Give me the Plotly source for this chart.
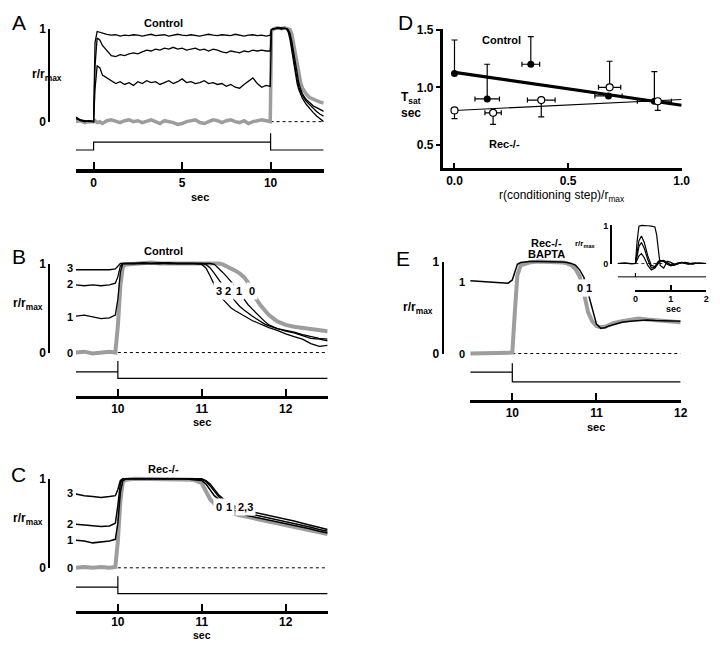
import plotly.graph_objects as go

# ======================= DATA =======================
# ---- Panel A: Control, 10 s conditioning steps ----
tA = [-1.0, -0.75, -0.5, -0.25, 0.0, 0.08, 0.2, 0.35,
      0.5, 0.75, 1.0, 1.25, 1.5, 1.75, 2.0, 2.25, 2.5, 2.75,
      3.0, 3.25, 3.5, 3.75, 4.0, 4.25, 4.5, 4.75, 5.0, 5.25,
      5.5, 5.75, 6.0, 6.25, 6.5, 6.75, 7.0, 7.25, 7.5, 7.75,
      8.0, 8.25, 8.5, 8.75, 9.0, 9.25, 9.5, 9.75,
      9.98, 10.05, 10.2, 10.4, 10.6, 10.8,
      10.9, 11.0, 11.1, 11.2, 11.3, 11.4, 11.5, 11.6, 11.7, 11.8,
      12.0, 12.2, 12.4, 12.6, 12.8, 13.0]
A_hi = [0.04, 0.01, 0.0, 0.01, 0.0, 0.85, 0.97, 0.96,
        0.95, 0.94, 0.93, 0.935, 0.92, 0.93, 0.925, 0.935, 0.93, 0.92,
        0.93, 0.94, 0.925, 0.93, 0.935, 0.92, 0.93, 0.94, 0.93, 0.925,
        0.935, 0.93, 0.92, 0.93, 0.94, 0.93, 0.925, 0.935, 0.93, 0.925,
        0.94, 0.93, 0.92, 0.93, 0.935, 0.925, 0.93, 0.92,
        0.93, 0.99, 1.0, 1.01, 0.995, 1.005,
        1.0, 0.96, 0.88, 0.76, 0.63, 0.51, 0.41, 0.34, 0.29, 0.25,
        0.19, 0.14, 0.1, 0.06, 0.03, 0.0]
A_mid = [0.03, 0.02, 0.0, 0.01, 0.0, 0.6, 0.9, 0.88,
         0.82, 0.76, 0.71, 0.70, 0.72, 0.71, 0.73, 0.74, 0.73, 0.75,
         0.77, 0.76, 0.78, 0.77, 0.79, 0.78, 0.80, 0.78, 0.79, 0.77,
         0.78, 0.79, 0.77, 0.78, 0.76, 0.78, 0.77, 0.75, 0.74, 0.76,
         0.75, 0.74, 0.76, 0.75, 0.77, 0.76, 0.77, 0.76,
         0.76, 0.99, 1.0, 1.0, 1.01, 1.0,
         1.0, 0.98, 0.92, 0.81, 0.68, 0.56, 0.45, 0.37, 0.32, 0.28,
         0.22, 0.18, 0.15, 0.11, 0.08, 0.06]
A_lo = [0.05, 0.02, 0.01, 0.0, 0.0, 0.35, 0.6, 0.58,
        0.5, 0.47, 0.44, 0.41, 0.43, 0.40, 0.42, 0.39, 0.43, 0.41,
        0.44, 0.42, 0.43, 0.40, 0.42, 0.44, 0.41, 0.43, 0.46, 0.42,
        0.43, 0.41, 0.42, 0.44, 0.41, 0.42, 0.40, 0.41, 0.38, 0.40,
        0.37, 0.36, 0.40, 0.44, 0.47, 0.41, 0.37, 0.39,
        0.38, 0.99, 1.0, 1.01, 1.0, 1.0,
        1.0, 0.99, 0.95, 0.86, 0.74, 0.61, 0.5, 0.41, 0.35, 0.3,
        0.24, 0.2, 0.17, 0.15, 0.13, 0.11]
A_gray = [0.0, 0.01, -0.01, 0.0, 0.0, 0.01, -0.01, 0.0,
          -0.02, 0.01, 0.02, 0.0, -0.01, 0.01, 0.02, 0.0, 0.01, -0.01,
          0.01, 0.02, 0.0, -0.02, 0.01, 0.0, -0.01, -0.03, -0.02, 0.0,
          0.01, 0.02, -0.01, -0.02, 0.0, 0.02, 0.01, -0.01, 0.01, 0.02,
          0.0, -0.01, 0.01, -0.02, 0.0, 0.01, 0.02, 0.01,
          0.0, 0.98, 1.0, 1.01, 1.0, 1.01,
          1.0, 1.0, 0.99, 0.94, 0.84, 0.72, 0.6, 0.5, 0.42, 0.36,
          0.3, 0.26, 0.24, 0.22, 0.21, 0.2]
stimA_t = [-1, 0, 0, 10, 10, 10, 13]
stimA_y = [-0.305, -0.305, -0.221, -0.221, -0.126, -0.305, -0.305]
zeroA_t = [10, 13]
A_ticks = [0, 5, 10]

# ---- Panels B (Control) and C (Rec-/-): saturating flash after steps ----
tBC = [9.5, 9.6, 9.7, 9.8, 9.9, 9.97, 10.0, 10.03, 10.06, 10.1,
       10.2, 10.3, 10.4, 10.5, 10.6, 10.7, 10.8, 10.9, 11.0, 11.05,
       11.1, 11.15, 11.2, 11.25, 11.3, 11.35, 11.4, 11.45, 11.5, 11.55,
       11.6, 11.65, 11.7, 11.75, 11.8, 11.9, 12.0, 12.1, 12.2, 12.3,
       12.4, 12.5]
B_0 = [0.0, 0.01, -0.01, 0.0, 0.01, 0.0, 0.3, 0.75, 0.97, 0.99,
       1.0, 1.0, 1.01, 1.0, 1.0, 1.01, 1.0, 1.0, 1.0, 1.0,
       1.0, 1.0, 1.0, 0.99, 0.97, 0.95, 0.92, 0.89, 0.85, 0.79,
       0.69, 0.6, 0.53, 0.47, 0.42, 0.35, 0.31, 0.29, 0.28, 0.27,
       0.25, 0.24]
B_1 = [0.41, 0.42, 0.40, 0.38, 0.39, 0.42, 0.6, 0.9, 1.0, 1.0,
       1.0, 1.01, 1.0, 1.0, 1.01, 1.0, 1.0, 1.0, 1.0, 1.0,
       1.0, 0.99, 0.95, 0.9, 0.85, 0.8, 0.74, 0.67, 0.6, 0.54,
       0.49, 0.44, 0.39, 0.35, 0.31, 0.27, 0.24, 0.22, 0.19, 0.16,
       0.15, 0.13]
B_2 = [0.76, 0.75, 0.76, 0.75, 0.76, 0.78, 0.85, 0.97, 1.0, 1.0,
       1.0, 1.0, 1.0, 1.01, 1.0, 1.0, 1.0, 1.0, 1.0, 0.99,
       0.95, 0.89, 0.82, 0.75, 0.69, 0.63, 0.57, 0.52, 0.48, 0.44,
       0.41, 0.38, 0.35, 0.32, 0.30, 0.27, 0.25, 0.23, 0.2, 0.18,
       0.16, 0.15]
B_3 = [0.93, 0.93, 0.935, 0.93, 0.93, 0.94, 0.97, 1.0, 1.0, 1.0,
       1.0, 1.0, 1.0, 1.0, 1.0, 1.0, 1.0, 1.0, 0.99, 0.95,
       0.86, 0.76, 0.68, 0.6, 0.55, 0.5, 0.47, 0.44, 0.41, 0.38,
       0.36, 0.34, 0.32, 0.3, 0.28, 0.25, 0.21, 0.18, 0.15, 0.1,
       0.07, 0.08]
C_0 = [0.0, 0.01, 0.0, 0.01, 0.0, 0.01, 0.3, 0.75, 0.97, 0.99,
       1.0, 1.0, 1.0, 1.0, 1.0, 1.0, 0.99, 0.99, 0.95, 0.86,
       0.77, 0.72, 0.69, 0.66, 0.64, 0.62, 0.6, 0.59, 0.58, 0.57,
       0.56, 0.55, 0.54, 0.535, 0.53, 0.51, 0.49, 0.47, 0.45, 0.43,
       0.405, 0.38]
C_1 = [0.31, 0.3, 0.28, 0.29, 0.3, 0.32, 0.5, 0.85, 0.98, 1.0,
       1.0, 1.0, 1.0, 1.0, 1.0, 1.0, 1.0, 0.99, 0.98, 0.94,
       0.88, 0.81, 0.77, 0.73, 0.7, 0.67, 0.64, 0.62, 0.6, 0.585,
       0.575, 0.565, 0.555, 0.55, 0.54, 0.52, 0.5, 0.48, 0.455, 0.435,
       0.41, 0.39]
C_2 = [0.49, 0.48, 0.47, 0.465, 0.47, 0.5, 0.7, 0.95, 1.0, 1.0,
       1.0, 1.0, 1.0, 1.0, 1.0, 1.0, 1.0, 1.0, 0.99, 0.97,
       0.92, 0.86, 0.8, 0.76, 0.72, 0.69, 0.67, 0.65, 0.63, 0.615,
       0.6, 0.59, 0.58, 0.57, 0.56, 0.54, 0.52, 0.5, 0.475, 0.455,
       0.43, 0.41]
C_3 = [0.83, 0.81, 0.8, 0.79, 0.8, 0.81, 0.88, 0.98, 1.0, 1.0,
       1.0, 1.0, 1.0, 1.0, 1.0, 1.0, 1.0, 1.0, 1.0, 0.98,
       0.94, 0.88, 0.82, 0.78, 0.745, 0.715, 0.69, 0.67, 0.655, 0.64,
       0.63, 0.62, 0.61, 0.6, 0.59, 0.57, 0.55, 0.525, 0.5, 0.475,
       0.455, 0.43]
stimBC_t = [9.5, 10, 10, 10, 12.5]
stimBC_y = [-0.216, -0.216, -0.095, -0.289, -0.289]
zeroBC_t = [10, 12.5]
BC_ticks = [10, 11, 12]
B_labels = ["3", "2", "1", "0"]
B_label_t = [11.21, 11.31, 11.44, 11.6]
B_label_y = 0.69
B_start = [0.945, 0.77, 0.40, 0.0]
C_labels = ["0", "1", "2,3"]
C_label_t = [11.21, 11.33, 11.52]
C_label_y = 0.68
C_start_labels = ["3", "2", "1", "0"]
C_start = [0.835, 0.495, 0.31, 0.0]

# ---- Panel D: Tsat vs conditioning response ----
D_ctrl_x = [0.0, 0.144, 0.336, 0.678, 0.88]
D_ctrl_y = [1.12, 0.90, 1.20, 0.926, 0.88]
D_ctrl_eup = [0.29, 0.30, 0.24, 0.0, 0.256]
D_ctrl_ex = [0.0, 0.054, 0.039, 0.06, 0.075]
D_rec_x = [0.0, 0.170, 0.382, 0.683, 0.895]
D_rec_y = [0.80, 0.78, 0.89, 1.00, 0.88]
D_rec_eup = [0.0, 0.0, 0.0, 0.226, 0.0]
D_rec_edn = [0.07, 0.10, 0.146, 0.0, 0.08]
D_rec_ex = [0.0, 0.036, 0.061, 0.049, 0.0]
fit_x = [0.0, 1.0]
fit_ctrl = [1.13, 0.845]
fit_rec = [0.80, 0.895]
D_xticks = [0.0, 0.5, 1.0]
D_yticks = [0.5, 1.0, 1.5]

# ---- Panel E: Rec-/- + BAPTA ----
tE = [9.5, 9.6, 9.7, 9.8, 9.9, 9.95, 10.0, 10.03, 10.06, 10.1,
      10.2, 10.3, 10.4, 10.5, 10.6, 10.65, 10.7, 10.75, 10.8, 10.85,
      10.9, 10.95, 11.0, 11.05, 11.1, 11.15, 11.2, 11.3, 11.4, 11.5,
      11.6, 11.7, 11.8, 11.9, 12.0]
E_1 = [0.79, 0.785, 0.78, 0.775, 0.77, 0.765, 0.8, 0.9, 0.97, 0.99,
       1.0, 1.0, 1.0, 1.0, 0.995, 0.99, 0.98, 0.96, 0.91, 0.83,
       0.66, 0.46, 0.32, 0.275, 0.28, 0.3, 0.315, 0.34, 0.35, 0.36,
       0.365, 0.36, 0.36, 0.355, 0.35]
E_0 = [0.0, 0.0, 0.01, 0.0, 0.0, 0.0, 0.01, 0.45, 0.85, 0.96,
       0.99, 1.0, 1.0, 1.0, 0.99, 0.98, 0.96, 0.92, 0.84, 0.66,
       0.45, 0.35, 0.3, 0.285, 0.29, 0.31, 0.33, 0.35, 0.37, 0.38,
       0.37, 0.36, 0.36, 0.35, 0.34]
stimE_t = [9.5, 10, 10, 10, 12]
stimE_y = [-0.202, -0.202, -0.106, -0.309, -0.309]
zeroE_t = [10, 12]
E_ticks = [10, 11, 12]
E_labels = ["0", "1"]
E_label_t = [10.81, 10.91]
E_label_y = 0.71

# ---- Inset of E: flash responses ----
tI = [-0.5, -0.3, -0.1, 0.0, 0.05, 0.1, 0.17, 0.25, 0.35, 0.45,
      0.55, 0.6, 0.65, 0.7, 0.8, 0.9, 1.0, 1.1, 1.2, 1.3,
      1.4, 1.5, 1.6, 1.7, 1.8, 1.9, 2.0]
I_sat = [0.0, 0.01, -0.01, 0.0, 0.6, 0.98, 1.0, 1.0, 0.99, 0.98,
         0.96, 0.75, 0.3, -0.05, -0.12, 0.06, 0.03, -0.02, 0.01, 0.03,
         0.0, -0.02, 0.01, 0.02, 0.0, 0.01, 0.0]
I_p70 = [0.0, 0.01, 0.0, 0.0, 0.3, 0.6, 0.72, 0.55, 0.2, -0.05,
         -0.08, 0.0, 0.06, 0.08, 0.05, -0.02, -0.06, -0.04, 0.0, 0.02,
         0.03, 0.01, -0.01, 0.0, 0.01, 0.0, 0.0]
I_p50 = [0.0, 0.0, 0.0, 0.0, 0.2, 0.45, 0.55, 0.4, 0.1, -0.12,
         -0.1, -0.02, 0.05, 0.07, 0.06, 0.0, -0.05, -0.03, 0.01, 0.02,
         0.02, 0.0, -0.01, 0.0, 0.01, 0.0, 0.0]
I_p25 = [0.0, 0.0, 0.0, 0.0, 0.1, 0.2, 0.26, 0.15, -0.05, -0.17,
         -0.12, -0.05, 0.03, 0.07, 0.08, 0.02, -0.03, -0.04, 0.0, 0.03,
         0.02, 0.0, -0.01, 0.0, 0.0, 0.0, 0.0]
stimI_t = [-0.5, 0, 0, 0, 2.0]
stimI_y = [-0.35, -0.35, -0.25, -0.35, -0.35]
zeroI_t = [0, 2]
I_ticks = [0, 1, 2]

# ======================= LAYOUT HELPERS =======================
W, H = 720, 648
OFF = 8  # the page places the figure 8 px in from the window's top-left corner
FONT = "Liberation Sans, Arial, Helvetica, sans-serif"
GRAY = "#9d9d9d"


def fx(p):
    return (p - OFF) / W


def fy(p):
    return 1 - (p - OFF) / H


def yrange(zero_px, one_px, bottom_px, top_px):
    u = zero_px - one_px
    return [-(bottom_px - zero_px) / u, 1 + (one_px - top_px) / u]


def tfont(size=12):
    return dict(family=FONT, size=size, color="black", weight="bold")


def hidden_axis(**kw):
    d = dict(visible=False, showgrid=False, zeroline=False, fixedrange=True)
    d.update(kw)
    return d


def time_axis(domain, rng, anchor, ticks, lw=2.5, tlen=7, size=12, standoff=0):
    return dict(domain=domain, range=rng, anchor=anchor, showline=True,
                linewidth=lw, linecolor="black", ticks="inside", ticklen=tlen,
                tickwidth=2, tickcolor="black", tickvals=ticks,
                ticklabelstandoff=standoff,
                tickfont=tfont(size), showgrid=False, zeroline=False)


def scale_axis(zero_px, one_px, x_px, tlen=6, lw=2, size=12):
    return dict(domain=[fy(zero_px), fy(one_px)], range=[0, 1], anchor="free",
                position=fx(x_px), side="left", showline=True, linewidth=lw,
                linecolor="black", ticks="inside", ticklen=tlen, tickwidth=lw,
                tickcolor="black", tickvals=[0, 1], tickfont=tfont(size),
                showgrid=False, zeroline=False)


def line(x, y, xa, ya, color="black", width=1.3, dash=None):
    return go.Scatter(x=x, y=y, xaxis=xa, yaxis=ya, mode="lines",
                      line=dict(color=color, width=width, dash=dash),
                      showlegend=False, hoverinfo="skip")


def dummy(xa, ya):
    return go.Scatter(x=[None], y=[None], xaxis=xa, yaxis=ya, mode="lines",
                      showlegend=False, hoverinfo="skip")


annotations = []


def txt(text, x, y, size=12, bold=True, xref="paper", yref="paper", bg=None):
    d = dict(text=text, x=x, y=y, xref=xref, yref=yref, showarrow=False,
             xanchor="center", yanchor="middle",
             font=dict(family=FONT, size=size, color="black",
                       weight="bold" if bold else "normal"))
    if bg:
        d.update(bgcolor=bg, borderpad=2)
    annotations.append(d)


def ptxt(text, px, py, **kw):
    txt(text, fx(px), fy(py), **kw)


fig = go.Figure()

# ---------------- Panel A ----------------
fig.add_trace(line(zeroA_t, [0, 0], "x", "y", width=1, dash="dot"))
fig.add_trace(line(stimA_t, stimA_y, "x", "y", width=1.2))
fig.add_trace(line(tA, A_gray, "x", "y", color=GRAY, width=3.5))
for ys in (A_lo, A_mid, A_hi):
    fig.add_trace(line(tA, ys, "x", "y"))
fig.add_trace(dummy("x", "y2"))

# ---------------- Panel B ----------------
fig.add_trace(line(zeroBC_t, [0, 0], "x2", "y3", width=1, dash="dot"))
fig.add_trace(line(stimBC_t, stimBC_y, "x2", "y3", width=1.2))
fig.add_trace(line(tBC, B_0, "x2", "y3", color=GRAY, width=4))
for ys in (B_1, B_2, B_3):
    fig.add_trace(line(tBC, ys, "x2", "y3"))
fig.add_trace(dummy("x2", "y4"))

# ---------------- Panel C ----------------
fig.add_trace(line(zeroBC_t, [0, 0], "x3", "y5", width=1, dash="dot"))
fig.add_trace(line(stimBC_t, stimBC_y, "x3", "y5", width=1.2))
fig.add_trace(line(tBC, C_0, "x3", "y5", color=GRAY, width=4))
for ys in (C_1, C_2, C_3):
    fig.add_trace(line(tBC, ys, "x3", "y5", width=1.5))
fig.add_trace(dummy("x3", "y6"))

# ---------------- Panel D ----------------
fig.add_trace(line(fit_x, fit_ctrl, "x4", "y7", width=3.2))
fig.add_trace(line(fit_x, fit_rec, "x4", "y7", width=1.1))
fig.add_trace(go.Scatter(
    x=D_ctrl_x, y=D_ctrl_y, xaxis="x4", yaxis="y7", mode="markers",
    marker=dict(symbol="circle", size=7, color="black"),
    error_y=dict(type="data", symmetric=False, array=D_ctrl_eup,
                 arrayminus=[0] * len(D_ctrl_eup), color="black",
                 thickness=1.2, width=3),
    error_x=dict(type="data", array=D_ctrl_ex, color="black",
                 thickness=1.2, width=2.5),
    showlegend=False, hoverinfo="skip"))
fig.add_trace(go.Scatter(
    x=D_rec_x, y=D_rec_y, xaxis="x4", yaxis="y7", mode="markers",
    marker=dict(symbol="circle", size=7, color="white",
                line=dict(color="black", width=1.2)),
    error_y=dict(type="data", symmetric=False, array=D_rec_eup,
                 arrayminus=D_rec_edn, color="black", thickness=1.2, width=3),
    error_x=dict(type="data", array=D_rec_ex, color="black",
                 thickness=1.2, width=2.5),
    showlegend=False, hoverinfo="skip"))

# ---------------- Panel E ----------------
fig.add_trace(line(zeroE_t, [0, 0], "x5", "y8", width=1, dash="dot"))
fig.add_trace(line(stimE_t, stimE_y, "x5", "y8", width=1.2))
fig.add_trace(line(tE, E_0, "x5", "y8", color=GRAY, width=4))
fig.add_trace(line(tE, E_1, "x5", "y8", width=1.5))
fig.add_trace(dummy("x5", "y9"))

# ---------------- Inset ----------------
fig.add_trace(line(zeroI_t, [0, 0], "x6", "y10", width=0.8, dash="dot"))
fig.add_trace(line(stimI_t, stimI_y, "x6", "y10", width=1))
for ys in (I_p25, I_p50, I_p70, I_sat):
    fig.add_trace(line(tI, ys, "x6", "y10", width=1.2))
fig.add_trace(dummy("x7", "y10"))
fig.add_trace(dummy("x6", "y11"))

layout_axes = dict(
    # A
    xaxis=time_axis([fx(74), fx(326)], [-1, 13], "y", A_ticks, lw=3.5),
    yaxis=hidden_axis(domain=[fy(165), fy(8)], range=yrange(117, 22, 165, 8)),
    yaxis2=scale_axis(117, 22, 47),
    # B
    xaxis2=time_axis([fx(74), fx(330)], [9.5, 12.5], "y3", BC_ticks, lw=2.8),
    yaxis3=hidden_axis(domain=[fy(397), fy(238)], range=yrange(353, 262, 397, 238)),
    yaxis4=scale_axis(353, 262, 47),
    # C
    xaxis3=time_axis([fx(74), fx(330)], [9.5, 12.5], "y5", BC_ticks, lw=2.8,
                     standoff=-2),
    yaxis5=hidden_axis(domain=[fy(617), fy(458)], range=yrange(573, 482, 617, 458)),
    yaxis6=scale_axis(573, 482, 47),
    # D
    xaxis4=dict(domain=[fx(447), fx(690)], range=[-0.052, 1.0], anchor="y7",
                showline=True, linewidth=2.5, linecolor="black", ticks="inside",
                ticklen=5, tickwidth=2, tickcolor="black", tickvals=D_xticks,
                ticktext=["0.0", "0.5", "1.0"], tickfont=tfont(12),
                showgrid=False, zeroline=False),
    yaxis7=dict(domain=[fy(164), fy(22)], range=[0.305, 1.508], anchor="x4",
                showline=True, linewidth=2.5, linecolor="black", ticks="outside",
                ticklen=4, tickwidth=2, tickcolor="black", tickvals=D_yticks,
                ticktext=["0.5", "1.0", "1.5"], tickfont=tfont(12),
                showgrid=False, zeroline=False),
    # E
    xaxis5=time_axis([fx(475), fx(689)], [9.5, 12.0], "y8", E_ticks, lw=2.5),
    yaxis8=hidden_axis(domain=[fy(401), fy(235)], range=yrange(354, 260, 401, 235)),
    yaxis9=scale_axis(354, 260, 447),
    # Inset
    xaxis6=hidden_axis(domain=[fx(625), fx(715)], range=[-0.5, 2.0], anchor="y10"),
    yaxis10=hidden_axis(domain=[fy(289), fy(216)], range=yrange(262, 223, 289, 216),
                        anchor="x6"),
    xaxis7=time_axis([fx(643), fx(715)], [0, 2], "y10", I_ticks, lw=1.5,
                     tlen=5, size=9),
    yaxis11=scale_axis(262, 223, 618, tlen=4, lw=1.5, size=9),
)

# ---------------- Text ----------------
for letter, (px, py) in zip("ABCDE", [(16, 16), (16, 255), (16, 478), (409, 16), (407, 257)]):
    ptxt(letter, px, py, size=21, bold=False)

ptxt("Control", 163, 16, size=11)
ptxt("Control", 163, 249, size=11)
ptxt("Rec-/-", 163, 472, size=11)
ptxt("Control", 507, 34, size=11)
ptxt("Rec-/-", 510, 140, size=11)
ptxt("Rec-/-", 553, 241, size=11)
ptxt("BAPTA", 553, 252, size=11)

RMAX = "r/r<sub>max</sub>"
ptxt(RMAX, 45, 69, size=12)
ptxt(RMAX, 25, 303, size=12)
ptxt(RMAX, 25, 523, size=12)
ptxt(RMAX, 422, 307, size=12)
ptxt(RMAX, 592, 242, size=8)

ptxt("sec", 200, 194, size=11)
ptxt("sec", 202, 424, size=11)
ptxt("sec", 202, 642, size=10.5)
ptxt("sec", 603, 429, size=11)
ptxt("sec", 682, 308, size=9)

ptxt("T<sub>sat</sub>", 415, 93, size=12)
ptxt("sec", 415, 108, size=12)
ptxt("r(conditioning step)/r<sub>max</sub>", 568, 193, size=12, bold=False)

# trace number labels
for lab, t in zip(B_labels, B_label_t):
    txt(lab, t, B_label_y, size=11, xref="x2", yref="y3", bg="white")
for lab, v in zip(B_labels, B_start):
    txt(lab, fx(68), v, size=11, yref="y3")
for lab, t in zip(C_labels, C_label_t):
    txt(lab, t, C_label_y, size=11, xref="x3", yref="y5", bg="white")
for lab, v in zip(C_start_labels, C_start):
    txt(lab, fx(68), v, size=11, yref="y5")
for lab, t in zip(E_labels, E_label_t):
    txt(lab, t, E_label_y, size=11, xref="x5", yref="y8", bg="white")
txt("1", fx(467), 0.777, size=11, yref="y8")
txt("0", fx(467), 0.0, size=11, yref="y8")

fig.update_layout(
    width=W, height=H, margin=dict(l=0, r=0, t=0, b=0),
    paper_bgcolor="white", plot_bgcolor="rgba(0,0,0,0)",
    showlegend=False, annotations=annotations,
    font=dict(family=FONT, color="black"),
    **layout_axes,
)

fig.write_html("out.html")
